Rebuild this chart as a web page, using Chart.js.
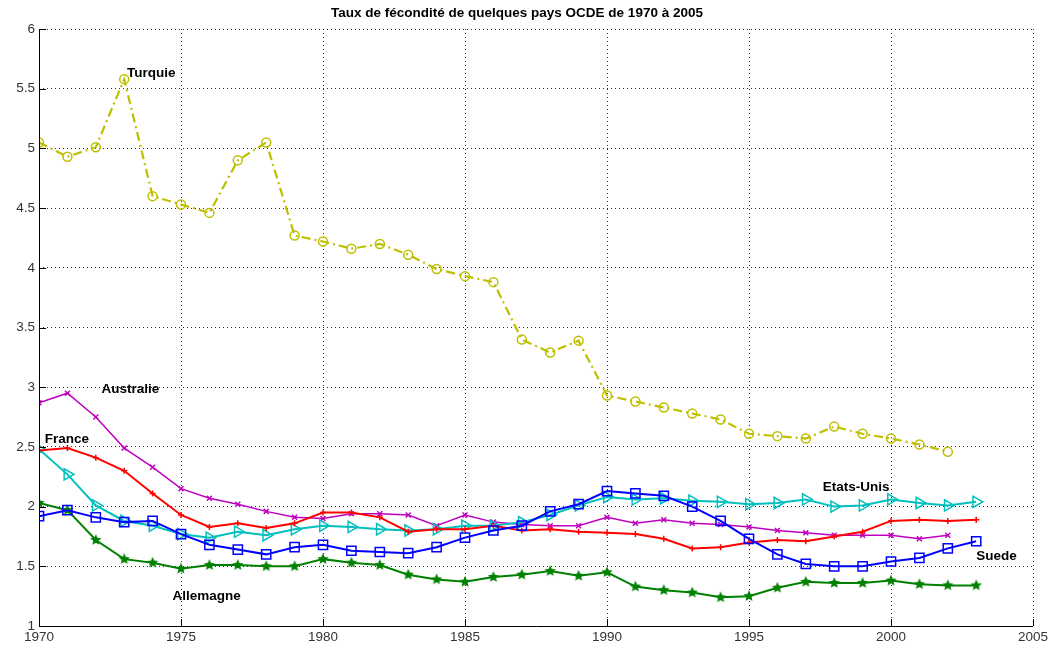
<!DOCTYPE html>
<html>
<head>
<meta charset="utf-8">
<script src="https://cdn.jsdelivr.net/npm/chart.js@4/dist/chart.umd.min.js"></script>
<style>
  html, body { margin: 0; padding: 0; background: #fff; }
  #wrap { width: 1055px; height: 648px; position: relative; }
</style>
</head>
<body>
<div id="wrap"><canvas id="fertChart"></canvas></div>
<script>
const years = [1970, 1971, 1972, 1973, 1974, 1975, 1976, 1977, 1978, 1979,
  1980, 1981, 1982, 1983, 1984, 1985, 1986, 1987, 1988, 1989,
  1990, 1991, 1992, 1993, 1994, 1995, 1996, 1997, 1998, 1999,
  2000, 2001, 2002, 2003];

const turquie = [5.05, 4.93, 5.01, 5.58, 4.60, 4.53, 4.46, 4.90, 5.05, 4.27,
  4.22, 4.16, 4.20, 4.11, 3.99, 3.93, 3.88, 3.40, 3.29, 3.39,
  2.93, 2.88, 2.83, 2.78, 2.73, 2.61, 2.59, 2.57, 2.67, 2.61,
  2.57, 2.52, 2.46];
const australie = [2.87, 2.95, 2.75, 2.49, 2.33, 2.15, 2.07, 2.02, 1.96, 1.91,
  1.90, 1.94, 1.94, 1.93, 1.84, 1.93, 1.87, 1.85, 1.84, 1.84,
  1.91, 1.86, 1.89, 1.86, 1.85, 1.83, 1.80, 1.78, 1.76, 1.76,
  1.76, 1.73, 1.76];
const france = [2.47, 2.49, 2.41, 2.30, 2.11, 1.93, 1.83, 1.86, 1.82, 1.86,
  1.95, 1.95, 1.91, 1.79, 1.81, 1.81, 1.84, 1.80, 1.81, 1.79,
  1.78, 1.77, 1.73, 1.65, 1.66, 1.70, 1.72, 1.71, 1.75, 1.79,
  1.88, 1.89, 1.88, 1.89];
const etatsUnis = [2.48, 2.27, 2.01, 1.88, 1.84, 1.77, 1.74, 1.79, 1.76, 1.81,
  1.84, 1.83, 1.81, 1.80, 1.81, 1.84, 1.84, 1.87, 1.93, 2.01,
  2.08, 2.06, 2.07, 2.05, 2.04, 2.02, 2.03, 2.06, 2.00, 2.01,
  2.06, 2.03, 2.01, 2.04];
const suede = [1.92, 1.97, 1.91, 1.87, 1.88, 1.77, 1.68, 1.64, 1.60, 1.66,
  1.68, 1.63, 1.62, 1.61, 1.66, 1.74, 1.80, 1.84, 1.96, 2.02,
  2.13, 2.11, 2.09, 2.00, 1.88, 1.73, 1.60, 1.52, 1.50, 1.50,
  1.54, 1.57, 1.65, 1.71];
const allemagne = [2.03, 1.97, 1.72, 1.56, 1.53, 1.48, 1.51, 1.51, 1.50, 1.50,
  1.56, 1.53, 1.51, 1.43, 1.39, 1.37, 1.41, 1.43, 1.46, 1.42,
  1.45, 1.33, 1.30, 1.28, 1.24, 1.25, 1.32, 1.37, 1.36, 1.36,
  1.38, 1.35, 1.34, 1.34];

// country name annotations [text, year, value]
const labels = [
  ["Turquie", 1973.1, 5.63],
  ["Australie", 1972.2, 2.98],
  ["France", 1970.2, 2.56],
  ["Etats-Unis", 1997.6, 2.16],
  ["Suede", 2003.0, 1.58],
  ["Allemagne", 1974.7, 1.25]
];

const toPoints = (vals) => vals.map((v, i) => ({ x: years[i], y: v }));

// filled star marker for Allemagne
function starMarker(color, r) {
  const c = document.createElement("canvas");
  c.width = c.height = r * 2 + 2;
  const g = c.getContext("2d");
  g.fillStyle = color;
  g.beginPath();
  for (let i = 0; i < 10; i++) {
    const rad = i % 2 === 0 ? r : r * 0.45;
    const a = -Math.PI / 2 + i * Math.PI / 5;
    const px = r + 1 + rad * Math.cos(a);
    const py = r + 1 + rad * Math.sin(a);
    if (i === 0) g.moveTo(px, py); else g.lineTo(px, py);
  }
  g.closePath();
  g.fill();
  return c;
}

function series(label, vals, color, extra) {
  return Object.assign({
    label: label,
    data: toPoints(vals),
    borderColor: color,
    backgroundColor: "rgba(0,0,0,0)",
    pointBorderColor: color,
    pointBackgroundColor: "rgba(0,0,0,0)",
    borderWidth: 2,
    pointBorderWidth: 1.5,
    tension: 0
  }, extra);
}

const annotate = {
  id: "annotate",
  afterDatasetsDraw(chart) {
    const { ctx, chartArea, scales: { x, y } } = chart;
    ctx.save();
    // solid left and bottom axis lines, inward tick marks
    ctx.strokeStyle = "#000";
    ctx.lineWidth = 1;
    ctx.beginPath();
    ctx.moveTo(chartArea.left + 0.5, chartArea.top);
    ctx.lineTo(chartArea.left + 0.5, chartArea.bottom + 0.5);
    ctx.lineTo(chartArea.right, chartArea.bottom + 0.5);
    x.ticks.forEach(t => {
      const px = Math.round(x.getPixelForValue(t.value)) + 0.5;
      ctx.moveTo(px, chartArea.bottom);
      ctx.lineTo(px, chartArea.bottom - 7);
    });
    y.ticks.forEach(t => {
      const py = Math.round(y.getPixelForValue(t.value)) + 0.5;
      ctx.moveTo(chartArea.left, py);
      ctx.lineTo(chartArea.left + 7, py);
    });
    ctx.stroke();
    // labels
    ctx.fillStyle = "#000";
    ctx.font = "bold 13.5px 'Liberation Sans', Arial, sans-serif";
    ctx.textBaseline = "middle";
    ctx.textAlign = "left";
    labels.forEach(([txt, lx, ly]) => {
      ctx.fillText(txt, x.getPixelForValue(lx), y.getPixelForValue(ly));
    });
    // title
    ctx.textAlign = "center";
    ctx.font = "bold 13.5px 'Liberation Sans', Arial, sans-serif";
    ctx.fillText("Taux de fécondité de quelques pays OCDE de 1970 à 2005", 517, 13);
    ctx.restore();
  }
};

const gridStyle = {
  color: "rgba(0,0,0,0.8)",
  lineWidth: 1,
  drawTicks: false
};
const tickFont = { family: "'Liberation Sans', Arial, sans-serif", size: 13.5 };

new Chart(document.getElementById("fertChart").getContext("2d"), {
  type: "line",
  data: {
    datasets: [
      series("Turquie", turquie, "#bfbf00", { borderDash: [9, 4, 2, 4], borderWidth: 2.2, pointStyle: "circle", pointRadius: 4.5 }),
      series("Suede", suede, "#0000ff", { pointStyle: "rect", pointRadius: 6.5 }),
      series("Allemagne", allemagne, "#008000", { pointStyle: starMarker("#008000", 6), pointRadius: 6 }),
      series("France", france, "#ff0000", { pointStyle: "cross", pointRadius: 3 }),
      series("Etats-Unis", etatsUnis, "#00bfbf", { pointStyle: "triangle", pointRotation: 90, pointRadius: 6.5 }),
      series("Australie", australie, "#bf00bf", { borderWidth: 1.5, pointStyle: "crossRot", pointRadius: 3.5 })
    ]
  },
  options: {
    responsive: true,
    maintainAspectRatio: false,
    animation: false,
    layout: { padding: { top: 29, right: 22, left: 0, bottom: 0 } },
    plugins: {
      legend: { display: false },
      title: { display: false },
      tooltip: { enabled: false }
    },
    scales: {
      x: {
        type: "linear",
        min: 1970,
        max: 2005,
        afterFit: (s) => { s.height = 22; },
        border: { display: false, dash: [1, 3] },
        grid: gridStyle,
        ticks: {
          stepSize: 5,
          padding: 3,
          color: "#333",
          font: tickFont,
          callback: (v) => String(v),
          maxRotation: 0
        }
      },
      y: {
        min: 1,
        max: 6,
        afterFit: (s) => { s.width = 39; },
        border: { display: false, dash: [1, 3] },
        grid: gridStyle,
        ticks: {
          stepSize: 0.5,
          padding: 4,
          color: "#333",
          font: tickFont,
          callback: (v) => String(Math.round(v * 10) / 10)
        }
      }
    }
  },
  plugins: [annotate]
});
</script>
</body>
</html>
